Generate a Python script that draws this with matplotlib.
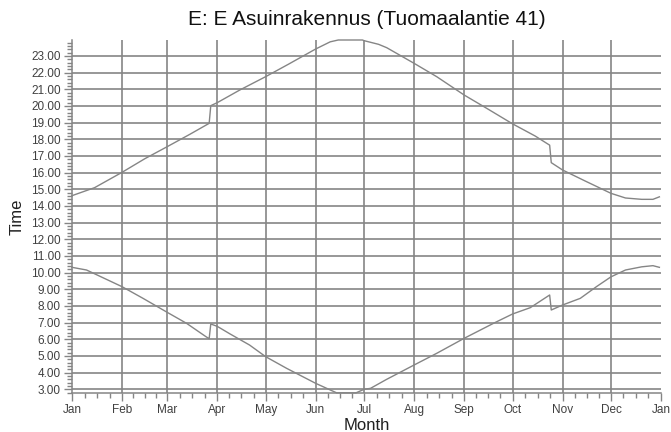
import matplotlib
matplotlib.use('Agg')
import matplotlib.pyplot as plt
import numpy as np

# day of year (0 = Jan 1) and time of day in hours
sunset_day = [0, 14, 31, 45, 59, 73, 85, 86, 90, 104, 120, 134, 151, 160, 165,
              180, 181, 190, 195, 212, 226, 243, 257, 273, 287, 296, 297, 304, 318,
              334, 343, 353, 360, 364]
sunset_hour = [14.62, 15.1, 16.02, 16.83, 17.56, 18.3, 18.96, 20.02, 20.2, 20.96, 21.76,
               22.5, 23.42, 23.85, 23.96, 23.96, 23.92, 23.7, 23.5, 22.56, 21.76,
               20.66, 19.86, 18.93, 18.2, 17.65, 16.6, 16.16, 15.5, 14.76, 14.48, 14.4,
               14.4, 14.55]

sunrise_day = [0, 9, 20, 31, 44, 59, 71, 83, 85, 86, 90, 98, 110, 120, 133, 141, 151,
               161, 164, 176, 181, 185, 195, 212, 226, 243, 262, 273, 284, 296, 297,
               304, 315, 325, 334, 343, 353, 360, 364]
sunrise_hour = [10.32, 10.16, 9.66, 9.16, 8.46, 7.62, 6.96, 6.16, 6.04, 6.92, 6.78, 6.32,
                5.66, 4.96, 4.26, 3.86, 3.36, 2.92, 2.79, 2.79, 3.0, 3.06, 3.6, 4.46, 5.16,
                6.06, 7.0, 7.52, 7.9, 8.66, 7.76, 8.06, 8.46, 9.16, 9.75, 10.16, 10.35,
                10.42, 10.32]

month_start = [0, 31, 59, 90, 120, 151, 181, 212, 243, 273, 304, 334, 365]
month_names = ['Jan', 'Feb', 'Mar', 'Apr', 'May', 'Jun', 'Jul', 'Aug', 'Sep', 'Oct',
               'Nov', 'Dec', 'Jan']
hour_ticks = list(range(3, 24))

plt.rcParams['font.family'] = ['Liberation Sans', 'DejaVu Sans']

grid_c = '#858585'
line_c = '#858585'
text_c = '#404040'

fig = plt.figure(figsize=(6.71, 4.32), dpi=100)
ax = fig.add_axes([72 / 671, 1 - 393 / 432, (661 - 72) / 671, (393 - 40) / 432])

ax.plot(sunset_day, sunset_hour, color=line_c, lw=1.0, zorder=3, clip_on=False)
ax.plot(sunrise_day, sunrise_hour, color=line_c, lw=1.0, zorder=3, clip_on=False)

ax.set_xlim(0, 365)
ax.set_ylim(2.78, 23.96)

ax.set_xticks(month_start)
ax.set_xticklabels(month_names)
minor_x = []
for a, b in zip(month_start[:-1], month_start[1:]):
    minor_x += [a + (b - a) * k / 4 for k in (1, 2, 3)]
ax.set_xticks(minor_x, minor=True)

ax.set_yticks(hour_ticks)
ax.set_yticklabels(['%.2f' % h for h in hour_ticks])
ax.set_yticks(np.arange(2.8, 24.0, 0.2), minor=True)

for d in month_start[1:-1]:
    ax.axvline(d, color=grid_c, lw=1.2, zorder=1)
for h in hour_ticks:
    ax.axhline(h, color=grid_c, lw=1.2, zorder=1)

for s in ['top', 'right']:
    ax.spines[s].set_visible(False)
for s in ['left', 'bottom']:
    ax.spines[s].set_color(grid_c)
    ax.spines[s].set_linewidth(1.1)

ax.tick_params(axis='both', which='major', colors=grid_c, labelcolor=text_c,
               labelsize=8.5, length=6, width=1)
ax.tick_params(axis='both', which='minor', colors=grid_c, length=3.5, width=1)
ax.tick_params(axis='x', pad=2)
ax.tick_params(axis='y', pad=2)

ax.set_xlabel('Month', fontsize=12, color='#202020', labelpad=1)
ax.set_ylabel('Time', fontsize=12, color='#202020', labelpad=5)
ax.set_title('E: E Asuinrakennus (Tuomaalantie 41)', fontsize=15, color='#101010', pad=11)

fig.savefig('out.png', dpi=100)
